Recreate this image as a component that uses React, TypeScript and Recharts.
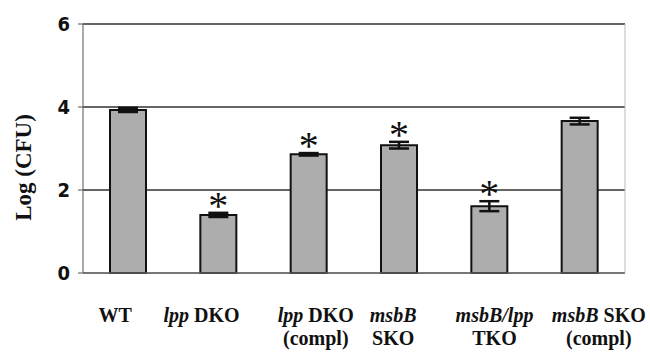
import React from "react";
import {
  Bar,
  BarChart,
  CartesianGrid,
  ErrorBar,
  LabelList,
  XAxis,
  YAxis,
} from "recharts";

const strains = [
  "WT",
  "lpp DKO",
  "lpp DKO|(compl)",
  "msbB|SKO",
  "msbB/lpp|TKO",
  "msbB SKO|(compl)",
];
const logCfu = [3.93, 1.4, 2.86, 3.08, 1.61, 3.66];
const sem = [0.05, 0.05, 0.03, 0.08, 0.12, 0.08];
const significant = [false, true, true, true, true, false];
const yTicks = [0, 2, 4, 6];
const italicWords = ["lpp", "msbB", "msbB/lpp"];

// nudges so the labels sit where the original figure put them
const labelShift = [-13, -17, 7, -6, 5, 19];

const data = strains.map((name, i) => ({
  name,
  value: logCfu[i],
  err: sem[i],
  sig: significant[i],
}));

const serif = "'Liberation Serif', 'Times New Roman', serif";
const narrow = "'Liberation Sans Narrow', 'DejaVu Sans Condensed', sans-serif";

function StrainTick(props: any) {
  const { x, y, payload, index } = props;
  const lines = String(payload.value).split("|");
  const cx = x + (labelShift[index] ?? 0);
  return (
    <g>
      {lines.map((line, li) => (
        <text
          key={li}
          x={cx}
          y={y + 41 + li * 23}
          textAnchor="middle"
          fontFamily={serif}
          fontWeight="bold"
          fontSize={20}
          fill="#111"
        >
          {line.split(" ").map((word, wi) => (
            <tspan key={wi} fontStyle={italicWords.includes(word) ? "italic" : "normal"}>
              {(wi > 0 ? " " : "") + word}
            </tspan>
          ))}
        </text>
      ))}
    </g>
  );
}

function Asterisk(props: any) {
  const { x, y, width, height, index } = props;
  if (!significant[index]) return null;
  const pxPerUnit = height / logCfu[index];
  const top = y - sem[index] * pxPerUnit;
  return (
    <text
      x={x + width / 2}
      y={top + 6}
      textAnchor="middle"
      fontFamily={serif}
      fontSize={40}
      fill="#111"
    >
      *
    </text>
  );
}

export default function App() {
  return (
    <div style={{ position: "absolute", left: 0, top: 0, background: "#fff" }}>
      <BarChart
        width={650}
        height={360}
        data={data}
        margin={{ top: 24, right: 0, bottom: 0, left: 0 }}
      >
        <CartesianGrid
          yAxisId="left"
          vertical={false}
          stroke="#333"
          strokeOpacity={1}
          strokeWidth={1.3}
        />
        <XAxis
          dataKey="name"
          height={87}
          interval={0}
          tickLine={false}
          axisLine={{ stroke: "#888" }}
          tick={<StrainTick />}
        />
        <YAxis
          yAxisId="left"
          width={83}
          domain={[0, 6]}
          ticks={yTicks}
          tickSize={5}
          tickMargin={8}
          axisLine={{ stroke: "#555" }}
          tickLine={{ stroke: "#555" }}
          tick={{ fontFamily: narrow, fontWeight: "bold", fontSize: 20, fill: "#111" }}
          label={({ viewBox }: any) => (
            <text
              x={31}
              y={viewBox.y + viewBox.height / 2 + 19}
              transform={`rotate(-90, 31, ${viewBox.y + viewBox.height / 2 + 19})`}
              textAnchor="middle"
              fontFamily={serif}
              fontWeight="bold"
              fontSize={23}
              fill="#111"
            >
              Log (CFU)
            </text>
          )}
        />
        <YAxis
          yAxisId="right"
          orientation="right"
          width={25}
          domain={[0, 6]}
          tick={false}
          tickLine={false}
          axisLine={{ stroke: "#bbb" }}
        />
        <Bar
          yAxisId="left"
          dataKey="value"
          fill="#adadad"
          stroke="#111"
          strokeWidth={2}
          barSize={36}
          isAnimationActive={false}
        >
          <ErrorBar dataKey="err" width={10} stroke="#111" strokeWidth={2.5} />
          <LabelList dataKey="value" content={<Asterisk />} />
        </Bar>
      </BarChart>
    </div>
  );
}
